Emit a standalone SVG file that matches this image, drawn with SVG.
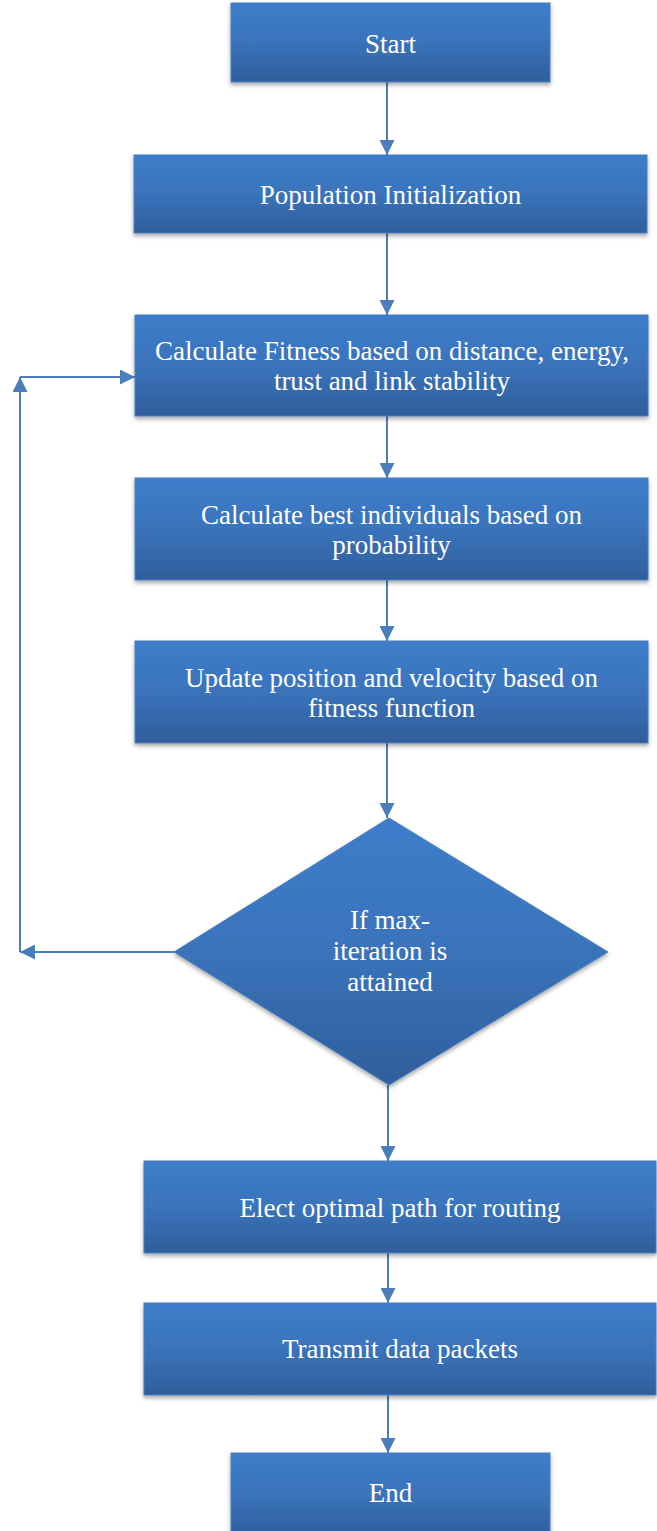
<svg xmlns="http://www.w3.org/2000/svg" width="657" height="1531" viewBox="0 0 657 1531">
<style>
.box{fill:url(#g);stroke:#4a7fc0;stroke-width:1;filter:url(#sh)}
.t{fill:#ffffff;text-anchor:middle}
.c{fill:none;stroke:#4a7ebb;stroke-width:2}
</style>
<defs>
<linearGradient id="g" x1="0" y1="0" x2="0" y2="1">
<stop offset="0" stop-color="#3d7dca"/>
<stop offset="0.5" stop-color="#3a73bb"/>
<stop offset="1" stop-color="#2f5e9b"/>
</linearGradient>
<filter id="sh" x="-10%" y="-10%" width="120%" height="130%">
<feDropShadow dx="0" dy="2.5" stdDeviation="2" flood-color="#000" flood-opacity="0.35"/>
</filter>
<marker id="ah" viewBox="0 0 10 10" refX="10" refY="5" markerWidth="7.5" markerHeight="7.5" orient="auto" markerUnits="strokeWidth">
<path d="M0,0 L10,5 L0,10 z" fill="#4a7ebb"/>
</marker>
</defs>
<g id="connectors">
<line class="c" x1="387" y1="82" x2="387" y2="155" marker-end="url(#ah)"/>
<line class="c" x1="387" y1="233" x2="387" y2="315" marker-end="url(#ah)"/>
<line class="c" x1="387" y1="416" x2="387" y2="478" marker-end="url(#ah)"/>
<line class="c" x1="387" y1="580" x2="387" y2="641" marker-end="url(#ah)"/>
<line class="c" x1="387" y1="743" x2="387" y2="818" marker-end="url(#ah)"/>
<line class="c" x1="174" y1="952" x2="20" y2="952" marker-end="url(#ah)"/>
<line class="c" x1="20" y1="952" x2="20" y2="377" marker-end="url(#ah)"/>
<line class="c" x1="20" y1="377" x2="135" y2="377" marker-end="url(#ah)"/>
<line class="c" x1="388" y1="1085" x2="388" y2="1161" marker-end="url(#ah)"/>
<line class="c" x1="388" y1="1253" x2="388" y2="1303" marker-end="url(#ah)"/>
<line class="c" x1="388" y1="1395" x2="388" y2="1453" marker-end="url(#ah)"/>
</g>
<g font-family="'Liberation Serif', 'Times New Roman', serif" font-size="27">
<g id="start">
<rect class="box" x="231" y="3" width="319" height="79"/>
<text class="t" x="390.5" y="53">Start</text>
</g>
<g id="population">
<rect class="box" x="134" y="155" width="513" height="78"/>
<text class="t" x="390.5" y="204">Population Initialization</text>
</g>
<g id="fitness">
<rect class="box" x="135" y="315" width="513" height="101"/>
<text class="t" x="392" y="360">Calculate Fitness based on distance, energy,</text>
<text class="t" x="392" y="390">trust and link stability</text>
</g>
<g id="best">
<rect class="box" x="135" y="478" width="513" height="102"/>
<text class="t" x="391.5" y="524">Calculate best individuals based on</text>
<text class="t" x="391.5" y="554">probability</text>
</g>
<g id="update">
<rect class="box" x="135" y="641" width="513" height="102"/>
<text class="t" x="391.5" y="687">Update position and velocity based on</text>
<text class="t" x="391.5" y="717">fitness function</text>
</g>
<g id="decision">
<polygon class="box" points="389,818 608,952 389,1085 174,952"/>
<text class="t" x="390" y="929">If max-</text>
<text class="t" x="390" y="960">iteration is</text>
<text class="t" x="390" y="991">attained</text>
</g>
<g id="elect">
<rect class="box" x="144" y="1161" width="512" height="92"/>
<text class="t" x="400" y="1217">Elect optimal path for routing</text>
</g>
<g id="transmit">
<rect class="box" x="144" y="1303" width="512" height="92"/>
<text class="t" x="400" y="1358">Transmit data packets</text>
</g>
<g id="end">
<rect class="box" x="231" y="1453" width="319" height="85"/>
<text class="t" x="390.5" y="1502">End</text>
</g>
</g>
</svg>
